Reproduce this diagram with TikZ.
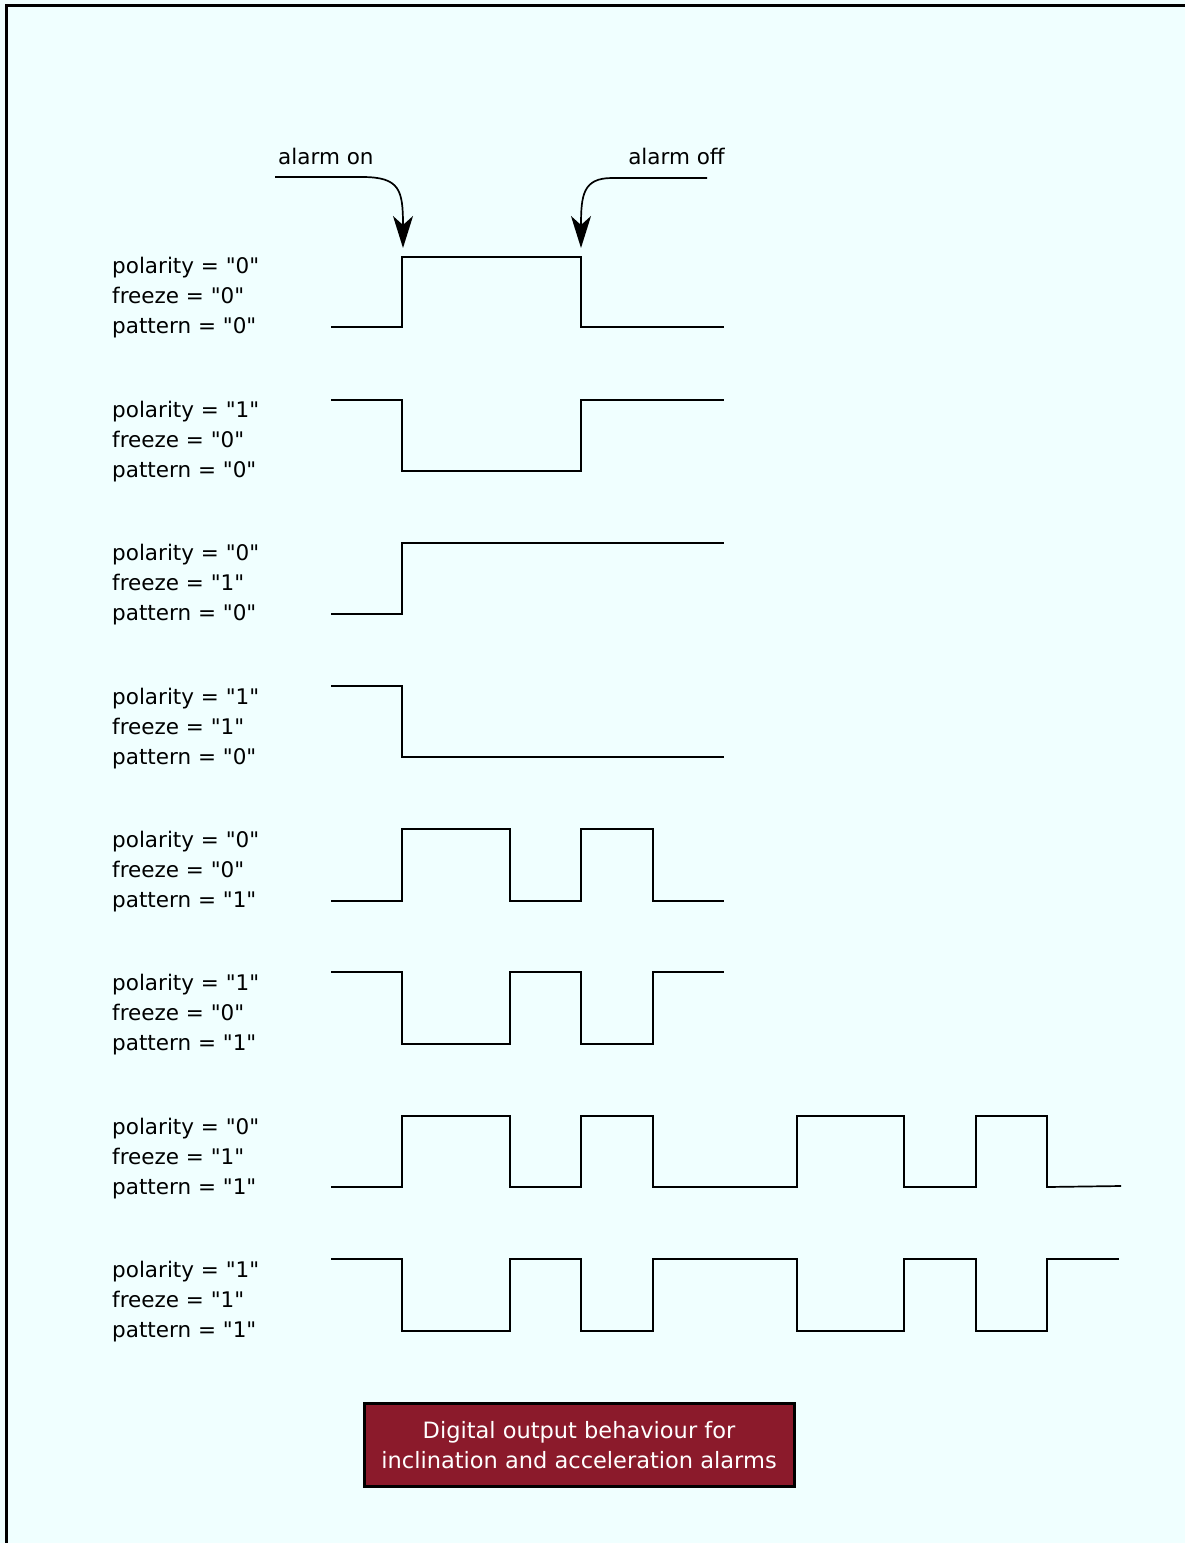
\documentclass[tikz,border=0pt]{standalone}
\usepackage{fontspec}
\setmainfont{DejaVu Sans}[Ligatures=TeXOff]
\usetikzlibrary{arrows.meta}
\definecolor{bgcol}{RGB}{240,255,255}
\definecolor{boxred}{RGB}{139,26,43}
\tikzset{
  wave/.style={line width=1.7pt, line join=miter},
  lbl/.style={anchor=west, inner sep=0pt, font=\fontsize{21.5}{30}\selectfont, align=left},
  tag/.style={anchor=base west, inner sep=0pt, font=\fontsize{21.5}{26}\selectfont},
  pointer/.style={line width=1.7pt, -{Stealth[length=32pt, width=20pt, inset=9pt]}},
  titlebox/.style={draw=black, line width=3pt, fill=boxred, text=white, minimum width=430pt, minimum height=83pt, align=center, font=\fontsize{22.5}{30}\selectfont}
}
\begin{document}
\begin{tikzpicture}[x=1pt,y=-1pt]
\useasboundingbox (0,0) rectangle (1185,1543);
\fill[bgcol] (0,0) rectangle (1185,1543);
\draw[line width=3pt] (6.5,1543) -- (6.5,5.5) -- (1185,5.5);

% labels
\foreach \k/\p/\f/\q in {0/0/0/0,1/1/0/0,2/0/1/0,3/1/1/0,4/0/0/1,5/1/0/1,6/0/1/1,7/1/1/1}{
  \pgfmathsetmacro{\hy}{257+143.4*\k}
  \node[lbl] (L\k) at (112,\hy+41) {polarity = "\p"\\freeze = "\f"\\pattern = "\q"};
}

% row 1
\draw[wave] (331,327) -- (402,327) -- (402,257) -- (581,257) -- (581,327) -- (724,327);
% row 2
\draw[wave] (331,400) -- (402,400) -- (402,471) -- (581,471) -- (581,400) -- (724,400);
% row 3
\draw[wave] (331,614) -- (402,614) -- (402,543) -- (724,543);
% row 4
\draw[wave] (331,686) -- (402,686) -- (402,757) -- (724,757);
% row 5
\draw[wave] (331,901) -- (402,901) -- (402,829) -- (510,829) -- (510,901) -- (581,901) -- (581,829) -- (653,829) -- (653,901) -- (724,901);
% row 6
\draw[wave] (331,972) -- (402,972) -- (402,1044) -- (510,1044) -- (510,972) -- (581,972) -- (581,1044) -- (653,1044) -- (653,972) -- (724,972);
% row 7
\draw[wave] (331,1187) -- (402,1187) -- (402,1116) -- (510,1116) -- (510,1187) -- (581,1187) -- (581,1116) -- (653,1116) -- (653,1187) -- (797,1187) -- (797,1116) -- (904,1116) -- (904,1187) -- (976,1187) -- (976,1116) -- (1047,1116) -- (1047,1187) -- (1121,1186);
% row 8
\draw[wave] (331,1259) -- (402,1259) -- (402,1331) -- (510,1331) -- (510,1259) -- (581,1259) -- (581,1331) -- (653,1331) -- (653,1259) -- (797,1259) -- (797,1331) -- (904,1331) -- (904,1259) -- (976,1259) -- (976,1331) -- (1047,1331) -- (1047,1259) -- (1119,1259);

% alarm pointers
\node[tag] (on) at (278,164) {alarm on};
\node[tag, anchor=base east] (off) at (725,164) {alarm off};
\coordinate (onS) at (275,177);
\coordinate (onT) at (403,248);
\coordinate (offS) at (707,178);
\coordinate (offT) at (581,248);
\draw[pointer] (onS) -- (362,177) .. controls (400,177) and (403,190) .. (onT);
\draw[pointer] (offS) -- (612,178) .. controls (583,178) and (581,195) .. (offT);

% title
\node[titlebox] (title) at (579,1445) {Digital output behaviour for\\inclination and acceleration alarms};
\end{tikzpicture}
\end{document}
